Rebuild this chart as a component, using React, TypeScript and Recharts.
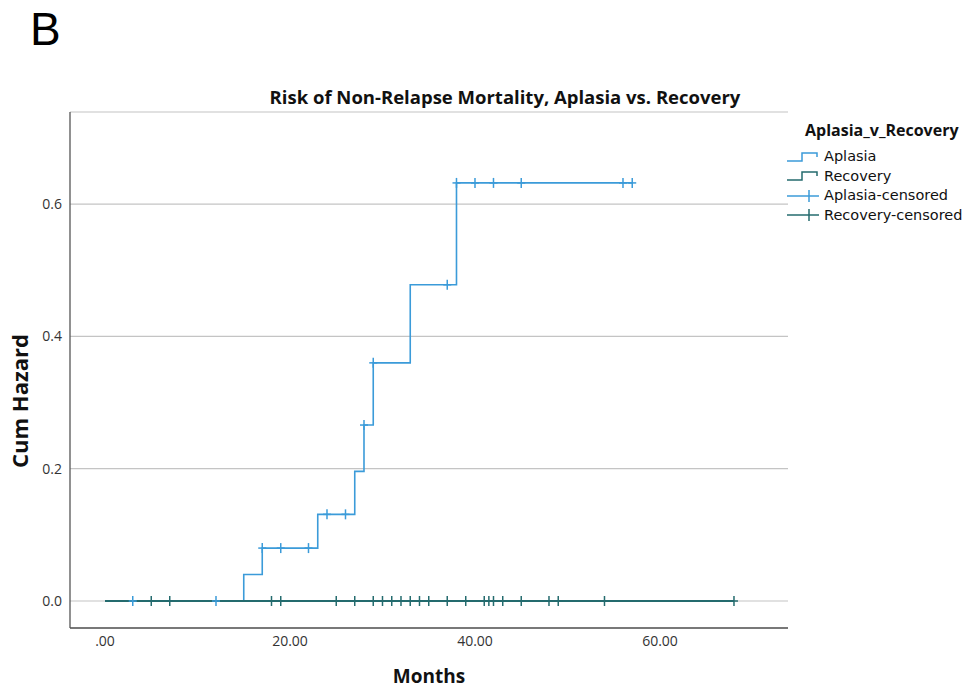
import React from "react";
import {
  ComposedChart,
  Line,
  Scatter,
  XAxis,
  YAxis,
  CartesianGrid,
} from "recharts";

// ---- data ----
const aplasiaMonths = [0, 15, 17, 23, 27, 28, 29, 33, 38, 57];
const aplasiaHazard = [0, 0.04, 0.08, 0.131, 0.196, 0.266, 0.36, 0.478, 0.632, 0.632];

const recoveryMonths = [0, 68];
const recoveryHazard = [0, 0];

const aplasiaCensMonths = [3, 12, 17, 19, 22, 24, 26, 28, 29, 37, 38, 40, 42, 45, 56, 57];
const aplasiaCensHazard = [0, 0, 0.08, 0.08, 0.08, 0.131, 0.131, 0.266, 0.36, 0.478, 0.632, 0.632, 0.632, 0.632, 0.632, 0.632];

const recoveryCensMonths = [5, 7, 18, 19, 25, 27, 29, 30, 31, 32, 33, 34, 35, 37, 39, 41, 41.5, 42, 43, 45, 48, 49, 54, 68];

const xTicks = [0, 20, 40, 60];
const yTicks = [0, 0.2, 0.4, 0.6];

const legendItems = ["Aplasia", "Recovery", "Aplasia-censored", "Recovery-censored"];

// ---- derived tables ----
const aplasiaData = aplasiaMonths.map((m, i) => ({ month: m, hazard: aplasiaHazard[i] }));
const recoveryData = recoveryMonths.map((m, i) => ({ month: m, hazard: recoveryHazard[i] }));
const aplasiaCensData = aplasiaCensMonths.map((m, i) => ({ month: m, hazard: aplasiaCensHazard[i] }));
const recoveryCensData = recoveryCensMonths.map((m) => ({ month: m, hazard: 0 }));

const APLASIA = "#3b9bd9";
const RECOVERY = "#246b6e";
const FONT = "'Open Sans', 'DejaVu Sans', sans-serif";
const LEGEND_FONT = "'DejaVu Sans', 'Open Sans', sans-serif";

const makeCross = (color: string) => (props: any) => {
  const { cx, cy } = props;
  if (cx == null || cy == null) return <g />;
  return (
    <g>
      <line x1={cx - 4} x2={cx + 4} y1={cy} y2={cy} stroke={color} strokeWidth={1.5} />
      <line x1={cx} x2={cx} y1={cy - 5} y2={cy + 5} stroke={color} strokeWidth={1.5} />
    </g>
  );
};

const StepIcon = ({ color }: { color: string }) => (
  <svg width={34} height={12} style={{ display: "block" }}>
    <path d="M1,10 H16 V2 H31 V6" fill="none" stroke={color} strokeWidth={1.5} />
  </svg>
);
const CrossIcon = ({ color }: { color: string }) => (
  <svg width={34} height={14} style={{ display: "block" }}>
    <line x1={1} x2={33} y1={7} y2={7} stroke={color} strokeWidth={1.5} />
    <line x1={23} x2={23} y1={1} y2={13} stroke={color} strokeWidth={1.5} />
  </svg>
);

export default function App() {
  return (
    <div
      style={{
        position: "absolute",
        left: 0,
        top: 0,
        width: 980,
        height: 689,
        background: "#ffffff",
        fontFamily: FONT,
      }}
    >
      <div
        style={{
          position: "absolute",
          left: 30,
          top: 2,
          fontFamily: "'Liberation Sans', Arial, sans-serif",
          fontSize: 46,
          lineHeight: "54px",
          color: "#000",
        }}
      >
        B
      </div>
      <div
        style={{
          position: "absolute",
          left: 150,
          width: 710,
          top: 85,
          textAlign: "center",
          fontSize: 18.5,
          fontWeight: 700,
          lineHeight: "24px",
          color: "#111",
        }}
      >
        Risk of Non-Relapse Mortality, Aplasia vs. Recovery
      </div>

      <ComposedChart
        width={980}
        height={689}
        margin={{ top: 112, right: 192, bottom: 31, left: 30 }}
        style={{ position: "absolute", left: 0, top: 0 }}
      >
        <CartesianGrid vertical={false} stroke="#c4c4c4" strokeWidth={1.2} />
        <XAxis
          type="number"
          dataKey="month"
          domain={[-3.784, 73.84]}
          allowDataOverflow
          ticks={xTicks}
          tickFormatter={(v: number) => (v === 0 ? ".00" : v.toFixed(2))}
          tickLine={false}
          axisLine={{ stroke: "#555", strokeWidth: 1.3 }}
          tick={{ fill: "#333", fontSize: 14, fontFamily: FONT }}
          height={30}
          label={{
            value: "Months",
            position: "bottom",
            offset: 12,
            style: { fontSize: 19, fontWeight: 700, fill: "#111", fontFamily: FONT },
          }}
        />
        <YAxis
          type="number"
          dataKey="hazard"
          domain={[-0.0408, 0.7392]}
          allowDataOverflow
          ticks={yTicks}
          tickFormatter={(v: number) => v.toFixed(1)}
          tickLine={false}
          axisLine={{ stroke: "#555", strokeWidth: 1.3 }}
          tick={{ fill: "#333", fontSize: 14, fontFamily: FONT }}
          width={40}
          label={{
            content: () => (
              <text
                x={0}
                y={0}
                transform="translate(28,401) rotate(-90)"
                textAnchor="middle"
                style={{ fontSize: 22, fontWeight: 700, fill: "#111", fontFamily: FONT }}
              >
                Cum Hazard
              </text>
            ),
          }}
        />
        <Line
          data={aplasiaData}
          dataKey="hazard"
          type="stepAfter"
          stroke={APLASIA}
          strokeWidth={1.6}
          dot={false}
          activeDot={false}
          isAnimationActive={false}
        />
        <Line
          data={recoveryData}
          dataKey="hazard"
          type="stepAfter"
          stroke={RECOVERY}
          strokeWidth={2}
          dot={false}
          activeDot={false}
          isAnimationActive={false}
        />
        <Scatter
          data={recoveryCensData}
          dataKey="hazard"
          shape={makeCross(RECOVERY)}
          isAnimationActive={false}
        />
        <Scatter
          data={aplasiaCensData}
          dataKey="hazard"
          shape={makeCross(APLASIA)}
          isAnimationActive={false}
        />
      </ComposedChart>

      <div
        style={{
          position: "absolute",
          left: 786,
          top: 119,
          color: "#111",
          fontFamily: LEGEND_FONT,
        }}
      >
        <div
          style={{
            fontFamily: FONT,
            fontSize: 16,
            fontWeight: 700,
            lineHeight: "22px",
            marginLeft: 19,
            marginBottom: 6,
          }}
        >
          Aplasia_v_Recovery
        </div>
        {legendItems.map((name, i) => (
          <div
            key={name}
            style={{ display: "flex", alignItems: "center", height: 19.5, fontSize: 14.5 }}
          >
            {i < 2 ? (
              <StepIcon color={i === 0 ? APLASIA : RECOVERY} />
            ) : (
              <CrossIcon color={i === 2 ? APLASIA : RECOVERY} />
            )}
            <span style={{ marginLeft: 4, lineHeight: "17px" }}>{name}</span>
          </div>
        ))}
      </div>
    </div>
  );
}
